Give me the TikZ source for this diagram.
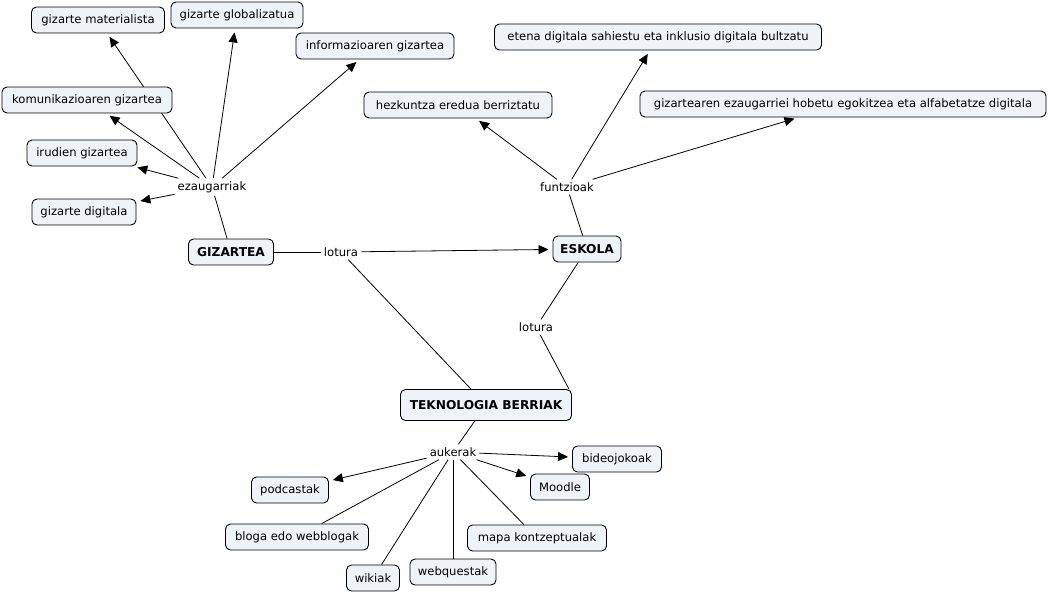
\documentclass[tikz,border=0pt]{standalone}
\usepackage{fontspec}
\setmainfont{DejaVu Sans}
\usetikzlibrary{arrows.meta}
\pgfdeclarelayer{bg}
\pgfsetlayers{bg,main}
\definecolor{cfill}{RGB}{237,243,246}
\tikzset{
  concept/.style={draw=black, fill=cfill, rounded corners=5pt, line width=0.9pt,
    minimum height=26pt, inner sep=2pt, font=\fontsize{11.6}{13}\selectfont},
  keyc/.style={concept, font=\fontsize{12.2}{13}\selectfont\bfseries},
  phrase/.style={inner sep=3pt, font=\fontsize{11.6}{13}\selectfont},
  link/.style={line width=0.8pt},
  arr/.style={link, -{Triangle[length=10pt,width=9pt]}, shorten >=4pt},
}
\begin{document}
\begin{tikzpicture}[x=1pt,y=-1pt]
\useasboundingbox (0,0) rectangle (1048,592);
% GIZARTEA cluster
\node[concept, minimum width=133pt] (mat) at (98,20) {gizarte materialista};
\node[concept, minimum width=132pt] (glob) at (237,15) {gizarte globalizatua};
\node[concept, minimum width=158pt] (info) at (375,46) {informazioaren gizartea};
\node[concept, minimum width=170pt] (kom) at (87,100) {komunikazioaren gizartea};
\node[concept, minimum width=110pt] (iru) at (82,153) {irudien gizartea};
\node[concept, minimum width=104pt] (dig) at (84,212) {gizarte digitala};
\node[phrase] (eza) at (212,187) {ezaugarriak};
\node[keyc, minimum width=85pt] (giz) at (231,252) {GIZARTEA};
\node[phrase] (lot1) at (341,252) {lotura};
% ESKOLA cluster
\node[keyc, minimum width=68pt] (esk) at (587,249) {ESKOLA};
\node[phrase] (fun) at (567,187) {funtzioak};
\node[concept, minimum width=188pt] (hez) at (458,105) {hezkuntza eredua berriztatu};
\node[concept, minimum width=327pt] (ete) at (658,37) {etena digitala sahiestu eta inklusio digitala bultzatu};
\node[concept, minimum width=406pt] (gzr) at (843,104) {gizartearen ezaugarriei hobetu egokitzea eta alfabetatze digitala};
\node[phrase] (lot2) at (536,327) {lotura};
% TEKNOLOGIA cluster
\node[keyc, minimum width=171pt, minimum height=31pt] (tek) at (486,405) {TEKNOLOGIA BERRIAK};
\node[phrase] (auk) at (453,452) {aukerak};
\node[concept, minimum width=89pt] (bid) at (617,459) {bideojokoak};
\node[concept, minimum width=59pt] (moo) at (560,487) {Moodle};
\node[concept, minimum width=77pt] (pod) at (290,490) {podcastak};
\node[concept, minimum width=143pt] (blo) at (297,537) {bloga edo webblogak};
\node[concept, minimum width=139pt] (map) at (537,538) {mapa kontzeptualak};
\node[concept, minimum width=86pt] (web) at (453,572) {webquestak};
\node[concept, minimum width=53pt] (wik) at (373,578) {wikiak};
\begin{pgfonlayer}{bg}
\draw[link] (giz) -- (eza);
\draw[arr] (eza) -- (mat);
\draw[arr] (eza) -- (glob);
\draw[arr] (eza) -- (info);
\draw[arr] (eza) -- (kom);
\draw[arr] (eza) -- (iru);
\draw[arr] (eza) -- (dig);
\draw[link] (giz) -- (lot1);
\draw[arr] (lot1) -- (esk);
\draw[link] (lot1) -- (tek);
\draw[link] (esk) -- (fun);
\draw[arr] (fun) -- (hez);
\draw[arr] (fun) -- (ete);
\draw[arr] (fun) -- (gzr);
\draw[link] (esk) -- (lot2);
\draw[link] (lot2) -- ([xshift=-3pt]tek.north east);
\draw[link] (tek) -- (auk);
\draw[arr] (auk) -- (pod);
\draw[arr] (auk) -- (moo);
\draw[arr] (auk) -- (bid);
\draw[link] (auk) -- (blo);
\draw[link] (auk) -- (wik);
\draw[link] (auk) -- (web);
\draw[link] (auk) -- (map);
\end{pgfonlayer}
\end{tikzpicture}
\end{document}
